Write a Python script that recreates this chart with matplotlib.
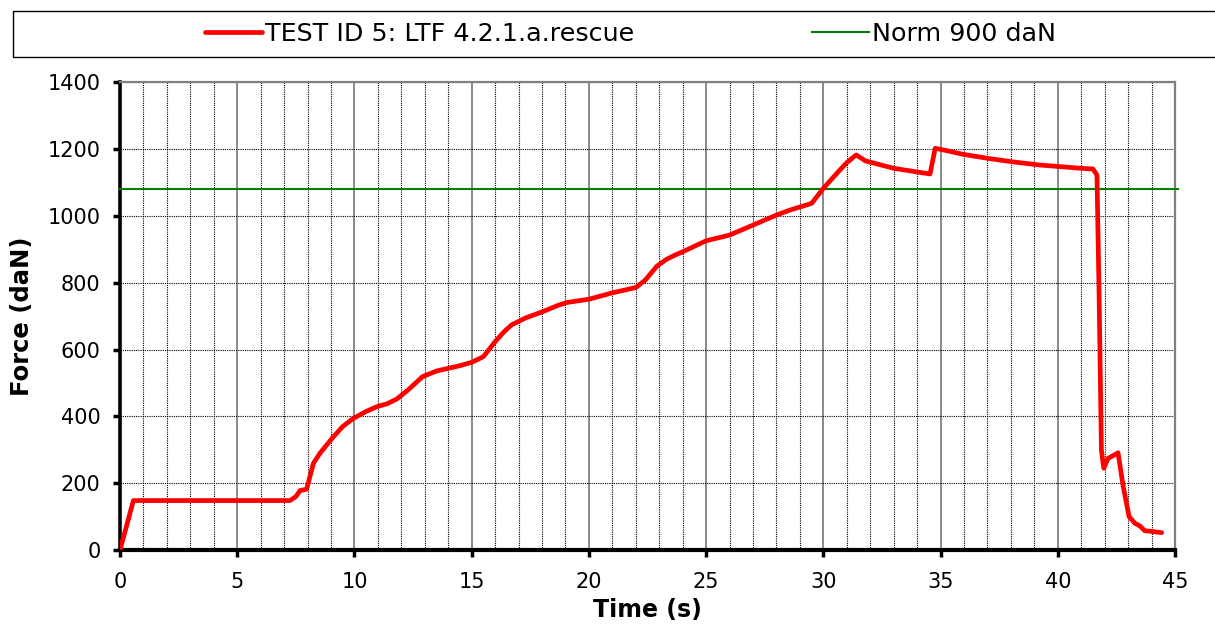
import matplotlib.pyplot as plt
from matplotlib.patches import Rectangle
from matplotlib.ticker import MultipleLocator

# Test curve (time in s, force in daN)
time_s = [0, 0.57, 7.25, 7.5, 7.68, 7.96, 8.1, 8.25, 8.53, 9.1, 9.5, 9.95, 10.5,
          10.95, 11.4, 11.8, 12.3, 12.9, 13.5, 14.0, 14.5, 15.0, 15.5, 16.0, 16.4,
          16.7, 17.3, 18.0, 18.7, 19.05, 20.0, 21.0, 22.0, 22.4, 22.9, 23.3, 23.7,
          24.0, 25.0, 26.0, 27.0, 28.0, 28.58, 29.5, 30.0, 30.64, 31.0, 31.4, 31.8,
          33.0, 34.55, 34.77, 35.25, 35.95, 37.0, 38.0, 39.2, 41.0, 41.5, 41.67,
          41.76, 41.86, 41.96, 42.14, 42.57, 42.79, 43.04, 43.29, 43.5, 43.7, 44.43]
force_dan = [0, 148, 148, 160, 178, 182, 220, 260, 290, 339, 370, 394, 415,
             429, 438, 452, 480, 519, 536, 544, 552, 562, 579, 624, 655,
             674, 695, 713, 733, 741, 751, 770, 786, 808, 850, 870, 884,
             893, 926, 943, 973, 1003, 1018, 1038, 1083, 1133, 1160, 1183, 1165,
             1143, 1126, 1203, 1196, 1185, 1173, 1163, 1153, 1143, 1141, 1123,
             769, 299, 245, 274, 291, 190, 100, 80, 72, 58, 52]

norm_level = 1080
test_label = 'TEST ID 5: LTF 4.2.1.a.rescue'
norm_label = 'Norm 900 daN'

fig = plt.figure(figsize=(12.15, 6.34), dpi=100)
ax = fig.add_axes([0.0988, 0.1325, 0.8683, 0.7374])

# grid: dotted every second, solid grey every 5 s, dotted every 200 daN
ax.xaxis.set_major_locator(MultipleLocator(5))
ax.xaxis.set_minor_locator(MultipleLocator(1))
ax.yaxis.set_major_locator(MultipleLocator(200))
ax.grid(which='minor', axis='x', color='black', linestyle=(0, (1, 1)), linewidth=0.8)
ax.grid(which='major', axis='x', color='#808080', linestyle='-', linewidth=1.3)
ax.grid(which='major', axis='y', color='black', linestyle=(0, (1, 1)), linewidth=0.8)
ax.set_axisbelow(True)

ax.plot(time_s, force_dan, color='red', linewidth=3.4, solid_joinstyle='round',
        solid_capstyle='round', label=test_label, zorder=4)
ax.axhline(norm_level, xmin=0, xmax=1.003, color='green', linewidth=1.5,
           label=norm_label, clip_on=False, zorder=3)

ax.set_xlim(0, 45)
ax.set_ylim(0, 1400)

for side in ['top', 'right']:
    ax.spines[side].set_color('#808080')
    ax.spines[side].set_linewidth(1.6)
ax.spines['left'].set_linewidth(2.6)
ax.spines['bottom'].set_linewidth(3.0)

ax.tick_params(which='major', direction='out', length=5, width=2.5, labelsize=15,
               color='black')
ax.tick_params(axis='y', pad=9)
ax.tick_params(axis='x', pad=11)
ax.tick_params(which='minor', length=0)

ax.set_xlabel('Time (s)', fontsize=17, fontweight='bold', labelpad=4)
ax.set_ylabel('Force (daN)', fontsize=17.5, fontweight='bold', labelpad=10)

# legend box on top of the figure
fig.patches.append(Rectangle((0.0107, 0.910), 1.0, 0.0726, transform=fig.transFigure,
                             fill=False, edgecolor='black', linewidth=1.0))
fig.legend(loc='center left', bbox_to_anchor=(0.1687, 0.946), ncol=2, frameon=False,
           fontsize=18.3, handlelength=2.25, handletextpad=0.1, columnspacing=7.0,
           borderpad=0, borderaxespad=0)

fig.savefig('out.png', dpi=100)
